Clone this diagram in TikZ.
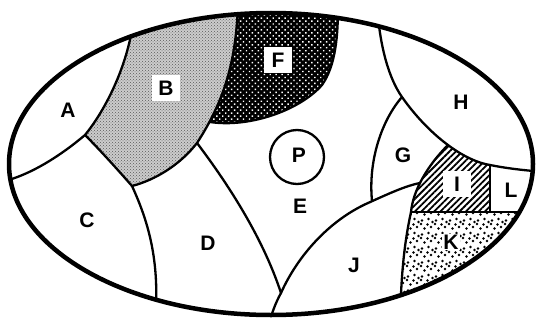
\documentclass[tikz,border=0pt]{standalone}
\usepackage{fontspec}
\setmainfont{Liberation Sans}
\usetikzlibrary{patterns,patterns.meta}

% unregelmaessige Punkte fuer K
\pgfdeclarepatternformonly{kdots}{\pgfqpoint{-1.5pt}{-1.5pt}}{\pgfqpoint{15.5pt}{15.5pt}}{\pgfqpoint{14pt}{14pt}}{%
  \pgfpathcircle{\pgfqpoint{2pt}{2.5pt}}{1.3pt}
  \pgfpathcircle{\pgfqpoint{8.5pt}{4pt}}{1.3pt}
  \pgfpathcircle{\pgfqpoint{4.5pt}{8.5pt}}{1.3pt}
  \pgfpathcircle{\pgfqpoint{11pt}{10pt}}{1.3pt}
  \pgfpathcircle{\pgfqpoint{12.5pt}{1pt}}{1.3pt}
  \pgfpathcircle{\pgfqpoint{1pt}{13pt}}{1.3pt}
  \pgfpathcircle{\pgfqpoint{7.5pt}{12.5pt}}{1.3pt}
  \pgfusepath{fill}}

\tikzset{
  every picture/.style={line cap=round, line join=round},
  % Linien
  rand/.style={line width=4.5pt},
  grenze/.style={line width=2.3pt},
  % Flaechen
  rasterB/.style={fill=black!20, postaction={pattern=crosshatch dots, pattern color=black!65}},
  rasterF/.style={fill=black, postaction={pattern={Dots[radius=1pt,distance=4.2pt,angle=45]}, pattern color=white}},
  schraffI/.style={pattern={Lines[angle=45,distance=4.5pt,line width=1.8pt]}},
  punkteK/.style={pattern=kdots},
  % Beschriftung
  lbl/.style={font=\fontsize{21}{24}\selectfont\bfseries, inner sep=1pt},
  lblbox/.style={lbl, fill=white, minimum width=28pt, minimum height=26pt},
}

\begin{document}
\begin{tikzpicture}[x=1pt, y=-1pt]
  \useasboundingbox (0,0) rectangle (538,321);
  \begin{scope}
    \clip (271,164) ellipse [x radius=262, y radius=151];
    % Flaechen F, B, I, K
    \fill[rasterF] (200,128) -- (210,122) .. controls (250,128) and (300,110) .. (322,85)
      .. controls (336,65) and (338,35) .. (338,5) -- (338,-5) -- (200,-5) -- cycle;
    \fill[rasterB] (85,135) .. controls (103,113) and (124,74) .. (132,30) -- (134,-5) -- (238,-5) -- (238,5)
      .. controls (236,60) and (225,100) .. (197,143) .. controls (180,165) and (155,180) .. (132,186)
      .. controls (118,170) and (100,150) .. (85,135) -- cycle;
    \fill[schraffI] (448,145) .. controls (462,155.4) and (476.5,162.75) .. (490,165) -- (490,212)
      -- (411,212) .. controls (413,190) and (428,165) .. (448,145) -- cycle;
    \fill[punkteK] (411,212) .. controls (405,240) and (401,270) .. (400,325) -- (545,325) -- (545,212) -- cycle;
    % Grenzen
    \draw[grenze] (5,181) .. controls (35,173) and (65,152) .. (85,135);
    \draw[grenze] (85,135) .. controls (103,113) and (124,74) .. (132,30);
    \draw[grenze] (85,135) .. controls (100,150) and (118,170) .. (132,186);
    \draw[grenze] (238,5) .. controls (236,60) and (225,100) .. (197,143)
      .. controls (180,165) and (155,180) .. (132,186);
    \draw[grenze] (132,186) .. controls (150,225) and (160,265) .. (155,322);
    \draw[grenze] (210,122) .. controls (250,128) and (300,110) .. (322,85)
      .. controls (336,65) and (338,35) .. (338,5);
    \draw[grenze] (197,143) .. controls (225,180) and (262,235) .. (281,293);
    \draw[grenze] (267,330) .. controls (272,312) and (276,302) .. (281,293)
      .. controls (298,255) and (330,220) .. (368,203) .. controls (388,194) and (405,186) .. (420,183);
    \draw[grenze] (402,97) .. controls (382,120) and (368,160) .. (372,201);
    \draw[grenze] (377,5) .. controls (380,50) and (390,80) .. (402,97)
      .. controls (425,130) and (460,160) .. (490,165) .. controls (505,168) and (520,170) .. (545,172);
    \draw[grenze] (448,145) .. controls (428,165) and (413,190) .. (411,212)
      .. controls (405,240) and (401,270) .. (400,325);
    \draw[grenze] (411,212) -- (545,212);
    \draw[grenze] (490,165) -- (490,212);
  \end{scope}
  % Rand und Kreis P
  \draw[rand] (271,164) ellipse [x radius=262, y radius=151];
  \draw[grenze] (297,157) circle [radius=27];
  % Beschriftung
  \node[lbl] (lA) at (68,110) {A};
  \node[lblbox] (lB) at (166,88) {B};
  \node[lbl] (lC) at (87,220) {C};
  \node[lbl] (lD) at (208,243) {D};
  \node[lbl] (lE) at (300,206) {E};
  \node[lblbox] (lF) at (278,60) {F};
  \node[lbl] (lG) at (403,155) {G};
  \node[lbl] (lH) at (461,102) {H};
  \node[lblbox] (lI) at (457,184) {I};
  \node[lbl] (lJ) at (354,265) {J};
  \node[lbl, fill=white] (lK) at (451,242) {K};
  \node[lbl] (lL) at (511,190) {L};
  \node[lbl] (lP) at (299,155) {P};
\end{tikzpicture}
\end{document}
